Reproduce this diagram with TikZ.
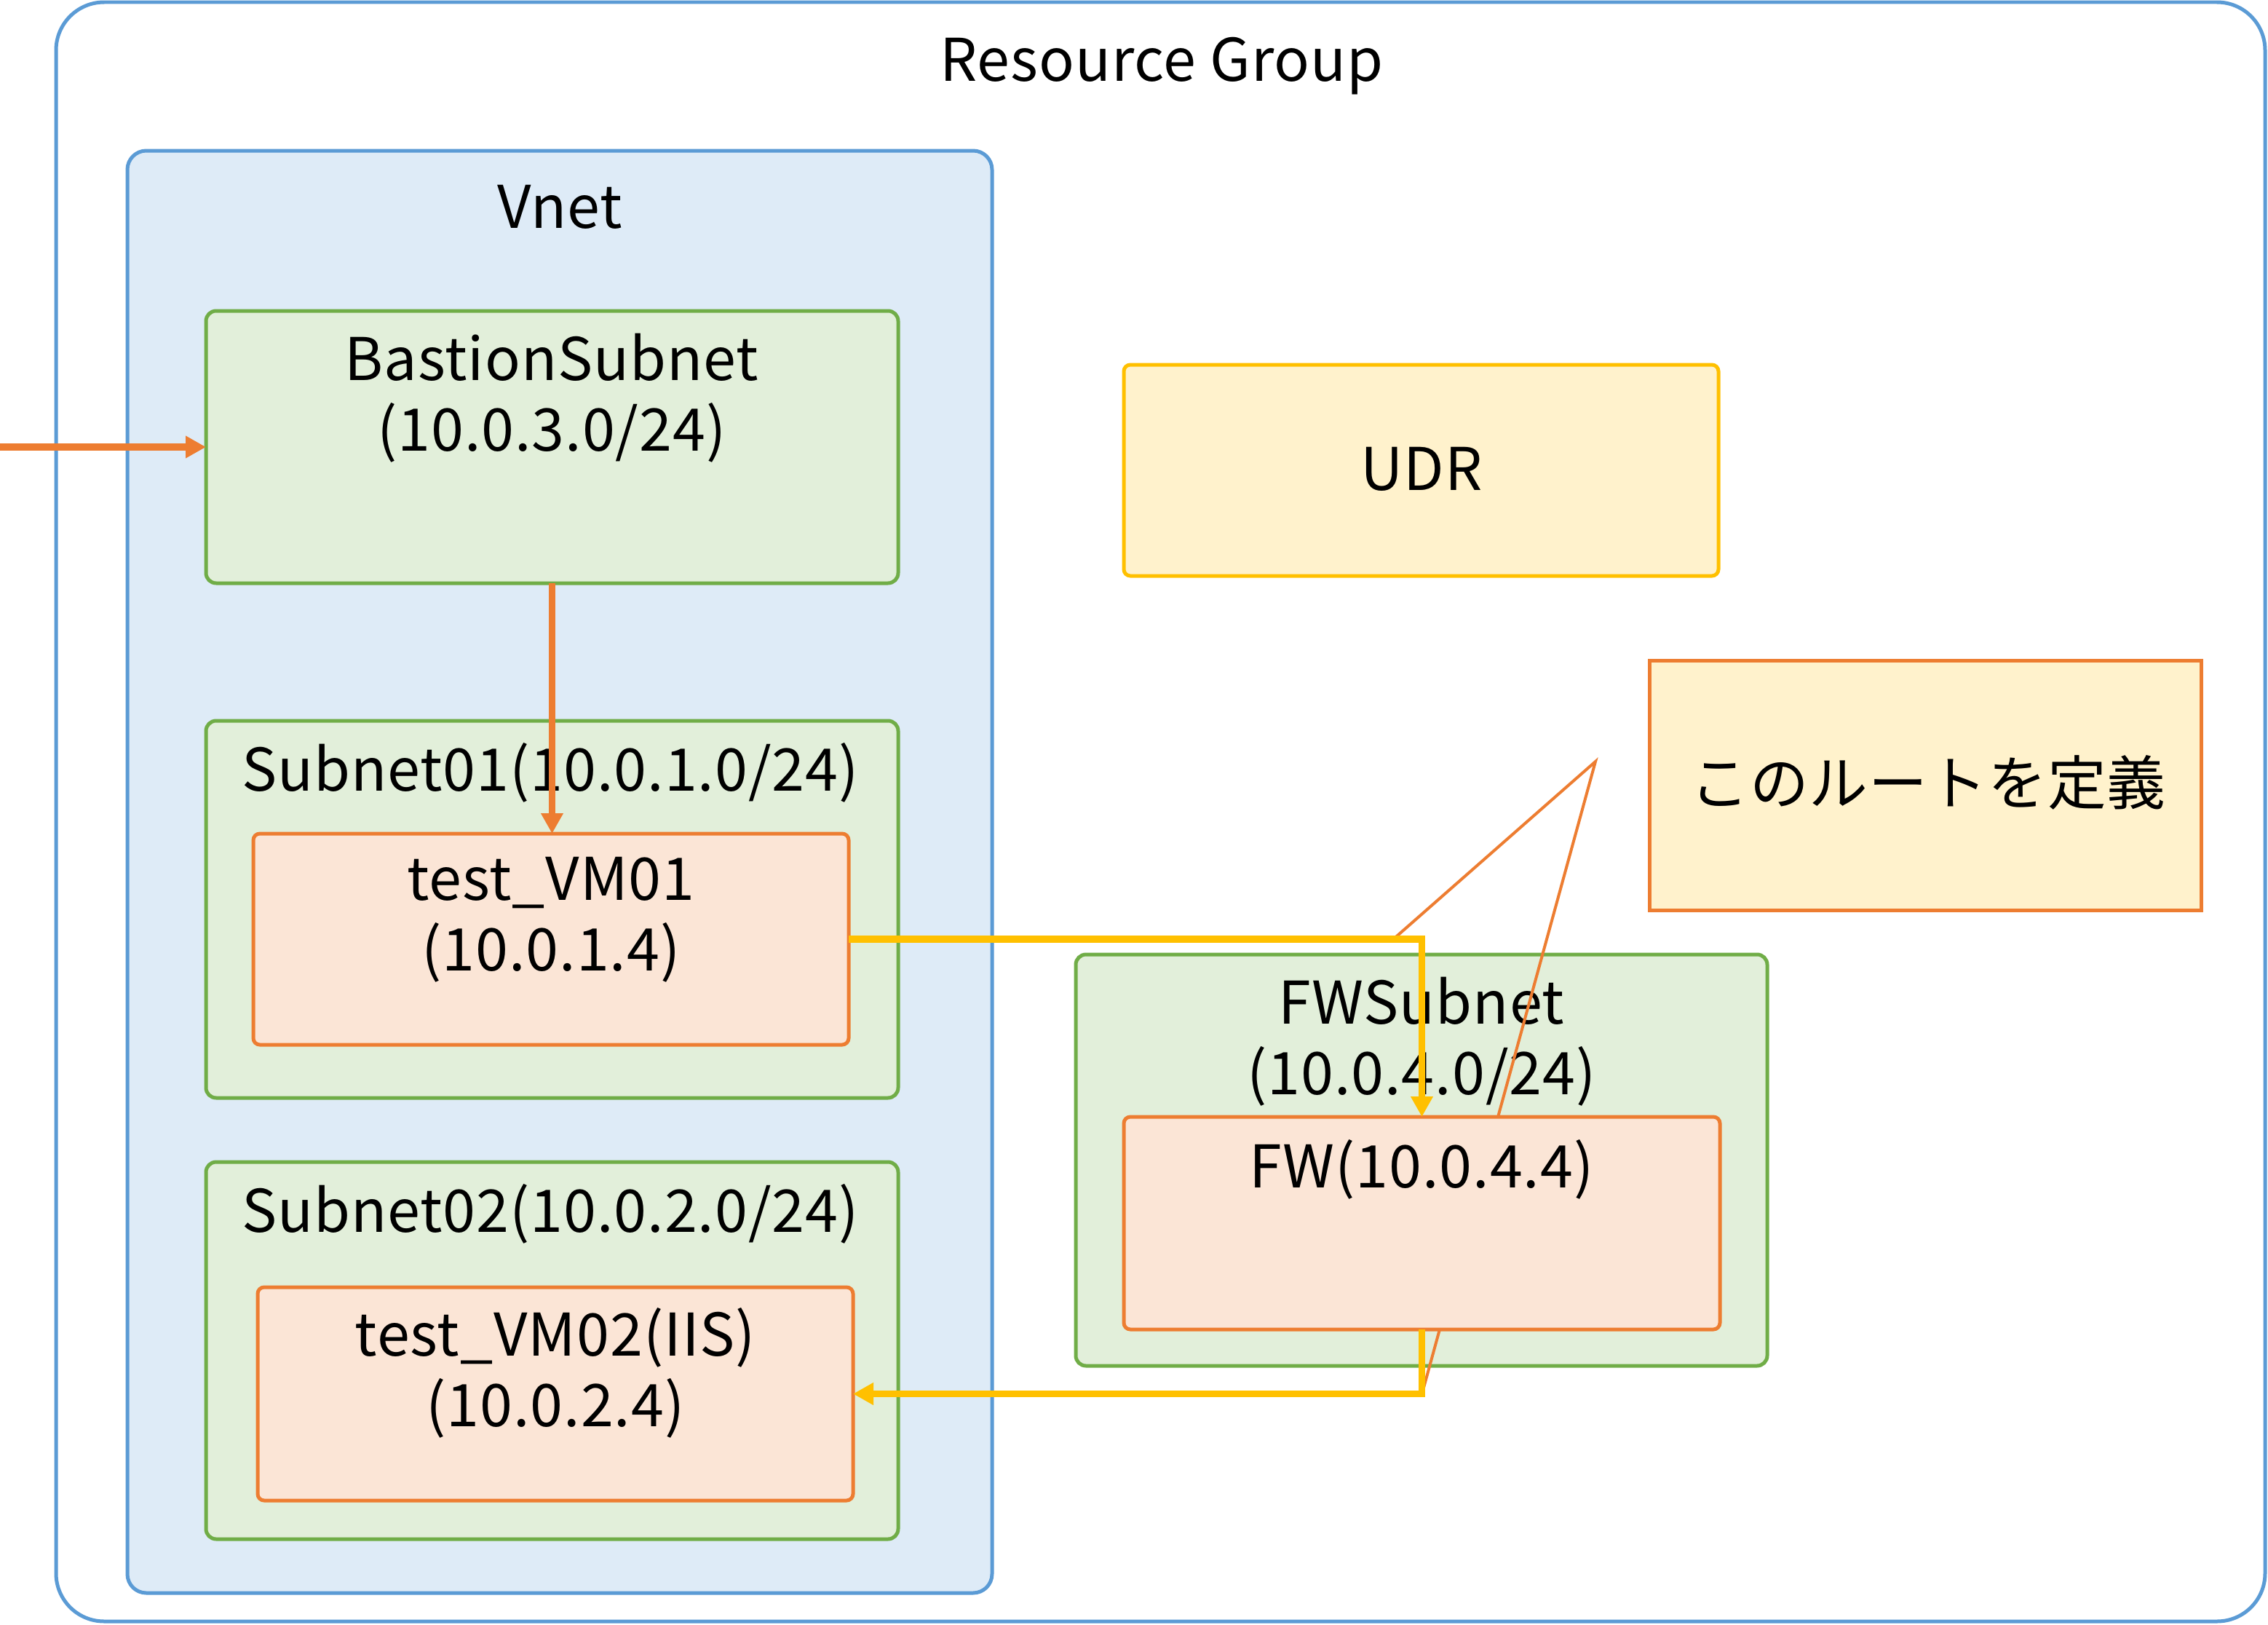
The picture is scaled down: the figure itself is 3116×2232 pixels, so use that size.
\documentclass[tikz,border=0pt]{standalone}
\usepackage{fontspec}
\setmainfont[LetterSpace=1.2]{Noto Sans CJK JP}
\usetikzlibrary{fit,arrows.meta}
\definecolor{rgblue}{HTML}{5B9BD5}
\definecolor{vnetfill}{HTML}{DEEBF7}
\definecolor{subgreen}{HTML}{70AD47}
\definecolor{subfill}{HTML}{E2EFDA}
\definecolor{vmorange}{HTML}{ED7D31}
\definecolor{vmfill}{HTML}{FBE5D6}
\definecolor{udrgold}{HTML}{FFC000}
\definecolor{udrfill}{HTML}{FFF2CC}
\tikzset{
  boxbase/.style={draw, line width=0.5mm, inner sep=0pt, outer sep=0pt},
  rgbox/.style={boxbase, draw=rgblue, fill=white, rounded corners=6.6mm},
  vnetbox/.style={boxbase, draw=rgblue, fill=vnetfill, rounded corners=2.6mm},
  subbox/.style={boxbase, draw=subgreen, fill=subfill, rounded corners=1.4mm},
  vmbox/.style={boxbase, draw=vmorange, fill=vmfill, rounded corners=0.9mm},
  udrbox/.style={boxbase, draw=udrgold, fill=udrfill, rounded corners=0.9mm},
  notebox/.style={boxbase, draw=vmorange, fill=udrfill},
  txt/.style={font=\fontsize{23}{27.6}\selectfont, align=center, inner sep=0pt},
  oarrow/.style={draw=vmorange, line width=0.95mm, -{Triangle[length=2.8mm,width=2.9mm]}},
  yarrow/.style={draw=udrgold, line width=0.95mm, -{Triangle[length=2.8mm,width=2.9mm]}},
  pointer/.style={draw=vmorange, line width=0.4mm, line join=miter}
}
\begin{document}
\begin{tikzpicture}[x=0.1mm,y=-0.1mm]
\useasboundingbox (0,0) rectangle (3116,2232);
% containers
\node[rgbox, fit={(77,3) (3112,2227)}] (rg) {};
\node[txt] (rgT) at (1596,91) {Resource Group};
\node[vnetbox, fit={(175,207) (1363,2188)}] (vnet) {};
\node[txt] (vnetT) at (769,284) {Vnet};
% Bastion
\node[subbox, fit={(283,427) (1234,801)}] (bastion) {};
\node[txt] (bastionT) at (758,547) {BastionSubnet\\(10.0.3.0/24)};
% Subnet01
\node[subbox, fit={(283,990) (1234,1508)}] (sub1) {};
\node[txt] (sub1T) at (756,1061) {Subnet01(10.0.1.0/24)};
\node[vmbox, fit={(348,1145) (1166,1435)}] (vm1) {};
\node[txt] (vm1T) at (757,1263) {test\_VM01\\(10.0.1.4)};
% Subnet02
\node[subbox, fit={(283,1596) (1234,2114)}] (sub2) {};
\node[txt] (sub2T) at (756,1667) {Subnet02(10.0.2.0/24)};
\node[vmbox, fit={(354,1768) (1172,2061)}] (vm2) {};
\node[txt] (vm2T) at (763,1886) {test\_VM02(IIS)\\(10.0.2.4)};
% UDR
\node[udrbox, fit={(1544,501) (2361,791)}] (udr) {};
\node[txt] (udrT) at (1953,644) {UDR};
% note
\node[notebox, fit={(2266,907) (3024,1250)}] (note) {};
\node[txt] (noteT) at (2649,1075) {このルートを定義};
% FW subnet
\node[subbox, fit={(1478,1311) (2428,1876)}] (fwsub) {};
\node[txt] (fwsubT) at (1953,1431) {FWSubnet\\(10.0.4.0/24)};
% pointer of the note
\coordinate (p1) at (1912,1292);
\coordinate (apex) at (2192,1046);
\coordinate (p2) at (1956,1906);
\draw[pointer] (p1) -- (apex) -- (p2);
% FW
\node[vmbox, fit={(1544,1534) (2363,1826)}] (fw) {};
\node[txt] (fwT) at (1953,1606) {FW(10.0.4.4)};
% arrows
\coordinate (inlet) at (0,614);
\draw[oarrow] (inlet) -- (bastion.west);
\draw[oarrow] (bastion.south) -- (bastion.south |- vm1.north);
\draw[yarrow] (vm1.east) -| (fw.north);
\draw[yarrow] (fw.south) |- (vm2.east);
\end{tikzpicture}
\end{document}
